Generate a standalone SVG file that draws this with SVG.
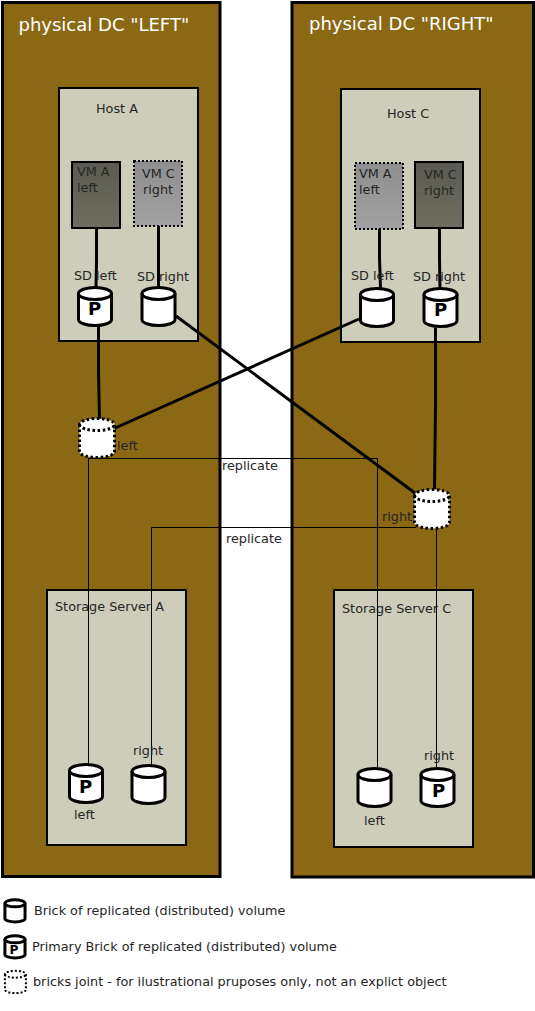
<svg xmlns="http://www.w3.org/2000/svg" width="535" height="1011" viewBox="0 0 535 1011">
<style>
text{font-family:"DejaVu Sans",sans-serif;font-size:12.8px;fill:#262626}
.dc{fill:#8b6914;stroke:#000;stroke-width:3}
.box{fill:#cdcdb9;stroke:#000;stroke-width:2}
.title{font-size:18px;fill:#fff}
.thick{stroke:#000;stroke-width:3;fill:none}
.thin{stroke:#000;stroke-width:1;fill:none}
.vmd{fill:url(#gd);stroke:#000;stroke-width:2}
.vml{fill:url(#gl);stroke:#000;stroke-width:2;stroke-dasharray:2 2}
.pl{font-weight:bold;font-size:18px;fill:#000}
.s{vector-effect:non-scaling-stroke;stroke:#000;stroke-width:3}
.j{stroke-dasharray:2.5 2.5}
.lj{stroke-width:2;stroke-dasharray:2 2}
</style>
<defs>
<linearGradient id="gd" x1="0" y1="0" x2="0" y2="1"><stop offset="0" stop-color="#5a5a50"/><stop offset="1" stop-color="#6e6e60"/></linearGradient>
<linearGradient id="gl" x1="0" y1="0" x2="0" y2="1"><stop offset="0" stop-color="#8e8e8e"/><stop offset="1" stop-color="#a2a2a2"/></linearGradient>
<g id="cyl"><path class="s" d="M1.500 7.500V33.500A16.500 6 0 0 0 34.500 33.500V7.500A16.500 6 0 0 0 1.500 7.500Z" fill="#fff"/><path class="s" d="M1.500 7.500A16.500 6 0 0 0 34.500 7.500" fill="none"/></g>
<g id="joint"><path class="s j" d="M1.500 7.500V34.500A17.500 6 0 0 0 36.500 34.500V7.500A17.500 6 0 0 0 1.500 7.500Z" fill="#fff"/><path class="s j" d="M1.500 7.500A17.500 6 0 0 0 36.500 7.500" fill="none"/></g>
</defs>
<g id="dc-left"><rect class="dc" x="2.500" y="2.500" width="217.500" height="874"/><text class="title" x="18.500" y="31">physical DC "LEFT"</text></g>
<g id="dc-right"><rect class="dc" x="292" y="2.500" width="241.500" height="874.500"/><text class="title" x="309" y="30">physical DC "RIGHT"</text></g>
<g id="host-a"><rect class="box" x="59" y="88" width="139" height="253"/><text x="96" y="113">Host A</text></g>
<g id="host-c"><rect class="box" x="341" y="89" width="139" height="253"/><text x="387" y="118">Host C</text></g>
<g id="server-a"><rect class="box" x="47" y="590" width="139" height="255"/><text x="55" y="611">Storage Server A</text></g>
<g id="server-c"><rect class="box" x="334" y="590" width="139" height="257"/><text x="342" y="613">Storage Server C</text></g>
<g id="connectors">
<path class="thick" d="M96.500 228V262L96 288"/>
<path class="thick" d="M158.500 226V288"/>
<path class="thick" d="M379.500 229V258L380.500 288"/>
<path class="thick" d="M439.500 229V258L440 289"/>
<path class="thick" d="M98.500 326V372L99.500 419"/>
<path class="thick" d="M435.500 328V406L434.500 489"/>
<path class="thick" d="M113 429L359 319"/>
<path class="thick" d="M176 316L415 493"/>
<path class="thin" d="M88.500 458V765"/>
<path class="thin" d="M88.500 458.500H377.500V769"/>
<path class="thin" d="M436.500 528V790"/>
<path class="thin" d="M416 527.500H151.500V766"/>
</g>
<g id="vm-a-left"><rect class="vmd" x="72" y="162" width="48" height="66"/><text x="77" y="176">VM A</text><text x="77" y="192">left</text></g>
<g id="vm-c-right-ghost"><rect class="vml" x="134" y="161" width="48" height="65"/><text x="142" y="178">VM C</text><text x="143" y="194">right</text></g>
<g id="vm-a-left-ghost"><rect class="vml" x="355" y="163" width="48" height="66"/><text x="359" y="178">VM A</text><text x="359" y="194">left</text></g>
<g id="vm-c-right"><rect class="vmd" x="415" y="162" width="48" height="66"/><text x="424" y="179">VM C</text><text x="424" y="195">right</text></g>
<g id="sd-a-left"><text x="74" y="280">SD left</text><use href="#cyl" x="77" y="286"/><text class="pl" x="88" y="315">P</text></g>
<g id="sd-a-right"><text x="137" y="281">SD right</text><use href="#cyl" x="140.500" y="286"/></g>
<g id="sd-c-left"><text x="351" y="280">SD left</text><use href="#cyl" x="359" y="287"/></g>
<g id="sd-c-right"><text x="413" y="281">SD right</text><use href="#cyl" x="422.500" y="287"/><text class="pl" x="434" y="316">P</text></g>
<g id="joint-left"><use href="#joint" x="78" y="417"/><text x="117" y="450">left</text></g>
<g id="joint-right"><use href="#joint" x="413" y="488"/><text x="382" y="521">right</text></g>
<g id="brick-a-left"><use href="#cyl" x="68" y="763"/><text class="pl" x="79" y="793">P</text><text x="74" y="819">left</text></g>
<g id="brick-a-right"><use href="#cyl" x="130.500" y="764"/><text x="133" y="755">right</text></g>
<g id="brick-c-left"><use href="#cyl" x="356.500" y="767"/><text x="364" y="825">left</text></g>
<g id="brick-c-right"><use href="#cyl" x="419.500" y="767"/><text class="pl" x="432" y="797">P</text><text x="424" y="760">right</text></g>
<text x="222" y="470">replicate</text>
<text x="226" y="543">replicate</text>
<g id="legend">
<g transform="translate(4 899) scale(.61 .58)"><use href="#cyl"/></g>
<text x="34" y="915">Brick of replicated (distributed) volume</text>
<g transform="translate(4 935) scale(.61 .58)"><use href="#cyl"/><text class="pl" x="9" y="33" style="font-size:20px">P</text></g>
<text x="32" y="951">Primary Brick of replicated (distributed) volume</text>
<g transform="translate(4 970) scale(.6 .57)"><path class="s lj" d="M1.500 7.500V34.500A17.500 6 0 0 0 36.500 34.500V7.500A17.500 6 0 0 0 1.500 7.500Z" fill="#fff"/><path class="s lj" d="M1.500 7.500A17.500 6 0 0 0 36.500 7.500" fill="none"/></g>
<text x="33" y="986">bricks joint - for ilustrational pruposes only, not an explict object</text>
</g>
</svg>
